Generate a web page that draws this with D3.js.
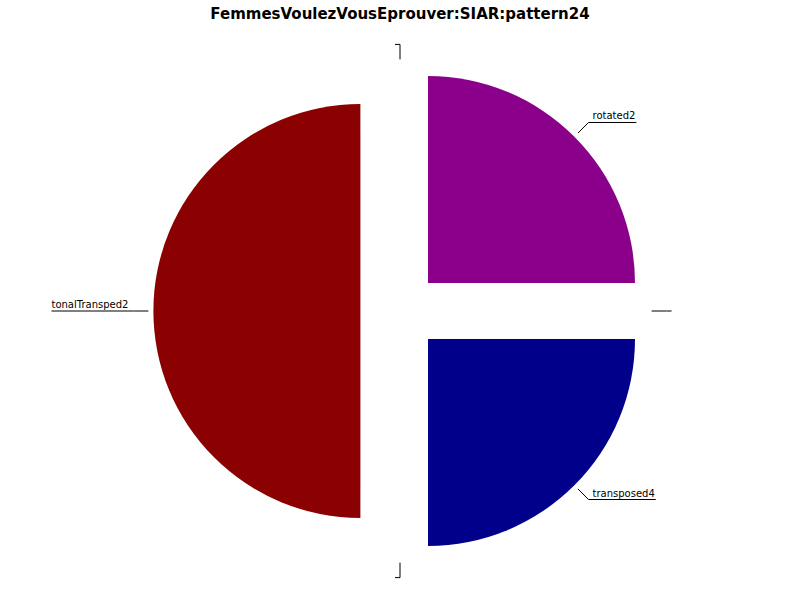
<!DOCTYPE html>
<html>
<head>
<meta charset="utf-8">
<script src="https://cdn.jsdelivr.net/npm/d3@7"></script>
<style>
  body { margin: 0; background: #fff; }
  svg { display: block; }
</style>
</head>
<body>
<svg id="chart" width="800" height="600"></svg>
<script>
const title = "FemmesVoulezVousEprouver:SIAR:pattern24";
const categories = ["", "rotated2", "", "transposed4", "", "tonalTransped2"];
const values = [0, 1, 0, 1, 0, 2];
const colors = ["#8B008B", "#8B008B", "#00008B", "#00008B", "#8B0000", "#8B0000"];

const svg = d3.select("#chart");
const W = 800, H = 600;
const cx = 400, cy = 311, R = 207, explode = 39.6;

svg.append("text")
  .attr("x", W / 2).attr("y", 19)
  .attr("text-anchor", "middle")
  .style("font-family", "DejaVu Sans")
  .style("font-weight", "bold")
  .style("font-size", "15px")
  .text(title);

const data = categories.map((c, i) => ({ label: c, value: values[i], color: colors[i] }));
const pie = d3.pie().sort(null).value(d => d.value).startAngle(0).endAngle(2 * Math.PI);
const arcs = pie(data);
const arc = d3.arc().innerRadius(0).outerRadius(R);

const g = svg.append("g").attr("transform", `translate(${cx},${cy})`);

arcs.forEach(a => {
  const mid = (a.startAngle + a.endAngle) / 2;
  const ox = explode * Math.sin(mid), oy = -explode * Math.cos(mid);
  const sg = g.append("g").attr("transform", `translate(${ox},${oy})`);
  if (a.value > 0) {
    sg.append("path").attr("d", arc(a)).attr("fill", a.data.color);
  }
  const r1 = R + 5, r2 = R + 20;
  const p1 = [r1 * Math.sin(mid), -r1 * Math.cos(mid)];
  const p2 = [r2 * Math.sin(mid), -r2 * Math.cos(mid)];
  const right = Math.sin(mid) > 1e-6;
  const txt = sg.append("text")
    .style("font-family", "DejaVu Sans")
    .style("font-size", "10px")
    .attr("fill", "#000")
    .text(a.data.label);
  const tw = a.data.label ? txt.node().getComputedTextLength() : 0;
  const len = tw + 5;
  const p3 = [p2[0] + (right ? len : -len), p2[1]];
  txt.attr("x", right ? p2[0] + 4 : p3[0]).attr("y", p2[1] - 3);
  sg.append("path")
    .attr("d", d3.line()([p1, p2, p3]))
    .attr("fill", "none")
    .attr("stroke", "#000")
    .attr("stroke-width", 1);
});
</script>
</body>
</html>
